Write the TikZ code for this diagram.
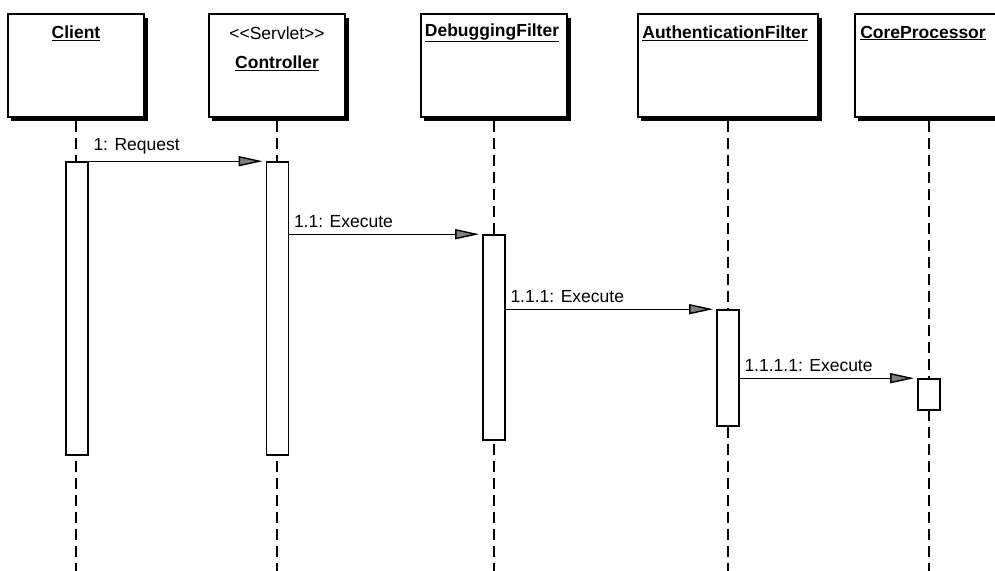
\documentclass[tikz,border=0pt]{standalone}
\usepackage{fontspec}
\setmainfont{Liberation Sans}
\usetikzlibrary{arrows.meta,positioning}

\begin{document}
\begin{tikzpicture}[
    x=1pt, y=-1pt,
    font=\fontsize{17.5}{20}\selectfont,
    objshadow/.style={fill=black, draw=none, minimum height=103pt},
    objbox/.style={draw, line width=1.6pt, fill=white, minimum height=103pt},
    objname/.style={font=\fontsize{17.5}{20}\selectfont\bfseries, inner sep=1pt},
    actbar/.style={draw, line width=1.6pt, fill=white, minimum width=22pt,
                   inner sep=0pt},
    lifeline/.style={dash pattern=on 11pt off 6pt, line width=1.4pt},
    busyline/.style={lifeline, line width=2.6pt},
    msg/.style={-{Triangle[length=24pt, width=10pt, fill=gray]},
                line width=1.4pt, shorten >=3pt},
    msglabel/.style={above right, inner sep=4pt, yshift=2pt}
]
\useasboundingbox (0,0) rectangle (995,570);
\clip (0,0) rectangle (995,570);

\node[objshadow, minimum width=137pt] (clientsh) at (79.5,69) {};
\node[objshadow, minimum width=137pt] (ctrlsh) at (280.5,69) {};
\node[objshadow, minimum width=147pt] (debugsh) at (497.5,69) {};
\node[objshadow, minimum width=181pt] (authsh) at (731.5,69) {};
\node[objshadow, minimum width=149pt] (coresh) at (932.5,69) {};

\node[objbox, minimum width=136pt] (client) at (76,65.5) {};
\node[objbox, minimum width=136pt] (ctrl) at (277,65.5) {};
\node[objbox, minimum width=146pt] (debug) at (494,65.5) {};
\node[objbox, minimum width=180pt] (auth) at (728,65.5) {};
\node[objbox, minimum width=148pt] (core) at (929,65.5) {};

\node[objname] (clientname) at (76,33) {\underline{Client}};
\node[inner sep=1pt] (ctrlstereo) at (277,33) {<\kern0pt<Servlet>\kern0pt>};
\node[objname] (ctrlname) at (277,63) {\underline{Controller}};
\node[objname] (debugname) at (492,33) {\underline{DebuggingFilter}};
\node[objname] (authname) at (725,33) {\underline{AuthenticationFilter}};
\node[objname] (corename) at (923,33) {\underline{CoreProcessor}};

\coordinate (clientend) at (76,575);
\coordinate (ctrlend) at (277,575);
\coordinate (debugend) at (494,575);
\coordinate (authend) at (728,575);
\coordinate (coreend) at (929,575);

\draw[lifeline] (clientsh.south -| client.south) -- (clientend);
\draw[busyline] (ctrlsh.south -| ctrl.south) -- (ctrlend);
\draw[lifeline] (debugsh.south -| debug.south) -- (debugend);
\draw[busyline] (authsh.south -| auth.south) -- (authend);
\draw[lifeline] (coresh.south -| core.south) -- (coreend);

\node[actbar, minimum height=293pt] (clientbar) at (77,308.5) {};
\node[actbar, minimum height=293pt] (ctrlbar) at (277.5,308.5) {};
\node[actbar, minimum height=205pt] (debugbar) at (494,337.5) {};
\node[actbar, minimum height=116pt] (authbar) at (728,368) {};
\node[actbar, minimum height=31pt] (corebar) at (929,394.5) {};

\draw[msg] (clientbar.east |- ctrlbar.north) -- (ctrlbar.north west)
    node[msglabel, pos=0] (m1) {1: Request};
\draw[msg] (ctrlbar.east |- debugbar.north) -- (debugbar.north west)
    node[msglabel, pos=0] (m2) {1.1: Execute};
\draw[msg] (debugbar.east |- authbar.north) -- (authbar.north west)
    node[msglabel, pos=0] (m3) {1.1.1: Execute};
\draw[msg] (authbar.east |- corebar.north) -- (corebar.north west)
    node[msglabel, pos=0] (m4) {1.1.1.1: Execute};
\end{tikzpicture}
\end{document}
